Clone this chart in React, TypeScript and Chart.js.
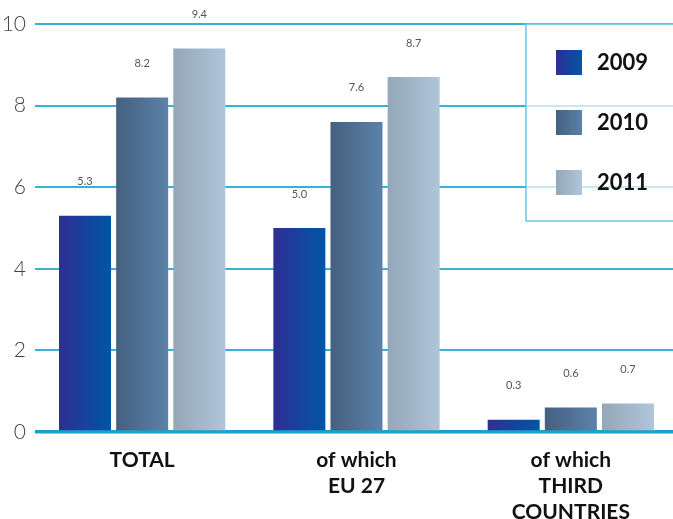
import { useEffect, useRef } from "react";
import { Chart, registerables } from "chart.js";

Chart.register(...registerables);

// Categories (multi-line axis labels) and series per year
const categories = [["TOTAL"], ["of which", "EU 27"], ["of which", "THIRD", "COUNTRIES"]];
const years = ["2009", "2010", "2011"];
const values2009 = [5.3, 5.0, 0.3];
const values2010 = [8.2, 7.6, 0.6];
const values2011 = [9.4, 8.7, 0.7];
const yTicks = [0, 2, 4, 6, 8, 10];

// Left-to-right gradient colours for each year's bars
const gradientStops = [
  ["#2e2f93", "#0056a6"],
  ["#45607f", "#5b82a9"],
  ["#93a7b7", "#afc5da"],
];

const FONT = "Lato, 'Open Sans', sans-serif";

const barGradients = {
  id: "barGradients",
  beforeDatasetsDraw(chart: any) {
    const ctx = chart.ctx;
    chart.data.datasets.forEach((_ds: any, i: number) => {
      const meta = chart.getDatasetMeta(i);
      meta.data.forEach((el: any) => {
        const { x, width } = el.getProps(["x", "width"], true);
        const g = ctx.createLinearGradient(x - width / 2, 0, x + width / 2, 0);
        g.addColorStop(0, gradientStops[i][0]);
        g.addColorStop(1, gradientStops[i][1]);
        el.options = { ...el.options, backgroundColor: g };
      });
    });
  },
};

// Legend panel in the upper right, drawn over the grid
const legendBox = {
  id: "legendBox",
  beforeDatasetsDraw(chart: any) {
    const ctx = chart.ctx;
    const left = 526;
    const top = chart.chartArea.top;
    const bottom = 221;
    const right = chart.width + 5;
    ctx.save();
    ctx.fillStyle = "rgba(255,255,255,0.72)";
    ctx.fillRect(left, top, right - left, bottom - top);
    ctx.strokeStyle = "#6cc6e3";
    ctx.lineWidth = 1.5;
    ctx.strokeRect(left, top, right - left, bottom - top);
    chart.data.datasets.forEach((ds: any, i: number) => {
      const sy = 50 + i * 60;
      const g = ctx.createLinearGradient(556, 0, 582, 0);
      g.addColorStop(0, gradientStops[i][0]);
      g.addColorStop(1, gradientStops[i][1]);
      ctx.fillStyle = g;
      ctx.fillRect(556, sy, 26, 25);
      ctx.fillStyle = "#111";
      ctx.font = `bold 22px ${FONT}`;
      ctx.textAlign = "left";
      ctx.textBaseline = "middle";
      ctx.fillText(ds.label, 597, sy + 13);
    });
    ctx.restore();
  },
};

// Value labels above each bar
const valueLabels = {
  id: "valueLabels",
  afterDatasetsDraw(chart: any) {
    const ctx = chart.ctx;
    ctx.save();
    ctx.fillStyle = "#555";
    ctx.font = `11px ${FONT}`;
    ctx.textAlign = "center";
    ctx.textBaseline = "middle";
    chart.data.datasets.forEach((ds: any, i: number) => {
      const meta = chart.getDatasetMeta(i);
      meta.data.forEach((el: any, j: number) => {
        const v = ds.data[j];
        ctx.fillText(v.toFixed(1), el.x, el.y - 34);
      });
    });
    ctx.restore();
  },
};

export default function App() {
  const ref = useRef<HTMLCanvasElement>(null);

  useEffect(() => {
    const chart = new Chart(ref.current!, {
      type: "bar",
      data: {
        labels: categories,
        datasets: [
          { label: years[0], data: values2009 },
          { label: years[1], data: values2010 },
          { label: years[2], data: values2011 },
        ],
      },
      options: {
        responsive: false,
        animation: false,
        devicePixelRatio: 1,
        layout: { padding: { top: 24, left: 0, right: 0, bottom: 0 } },
        datasets: {
          bar: { categoryPercentage: 0.8, barPercentage: 0.91, borderWidth: 0 },
        },
        plugins: {
          legend: { display: false },
          tooltip: { enabled: false },
        },
        scales: {
          x: {
            afterFit(scale: any) {
              scale.height = 87;
            },
            grid: { display: false, drawTicks: false },
            border: { display: false },
            ticks: {
              color: "#111",
              font: { family: FONT, size: 21, weight: "bold", lineHeight: 26 / 21 },
              padding: 15,
              maxRotation: 0,
              autoSkip: false,
            },
          },
          y: {
            min: 0,
            max: 10,
            afterBuildTicks(scale: any) {
              scale.ticks = yTicks.map((v) => ({ value: v }));
            },
            afterFit(scale: any) {
              scale.width = 35;
            },
            grid: {
              drawTicks: false,
              color: (c: any) => (c.tick && c.tick.value === 0 ? "#1e9fce" : "#38b1d9"),
              lineWidth: (c: any) => (c.tick && c.tick.value === 0 ? 3.5 : 2),
            },
            border: { display: false },
            ticks: {
              color: "#444",
              font: { family: FONT, size: 21, weight: 300 },
              padding: 9,
            },
          },
        },
      },
      plugins: [barGradients, legendBox, valueLabels],
    });
    return () => chart.destroy();
  }, []);

  return (
    <div style={{ position: "fixed", left: 0, top: 0, width: 673, height: 519, overflow: "hidden", background: "#fff" }}>
      <canvas ref={ref} width={678} height={519} style={{ display: "block" }} />
    </div>
  );
}
